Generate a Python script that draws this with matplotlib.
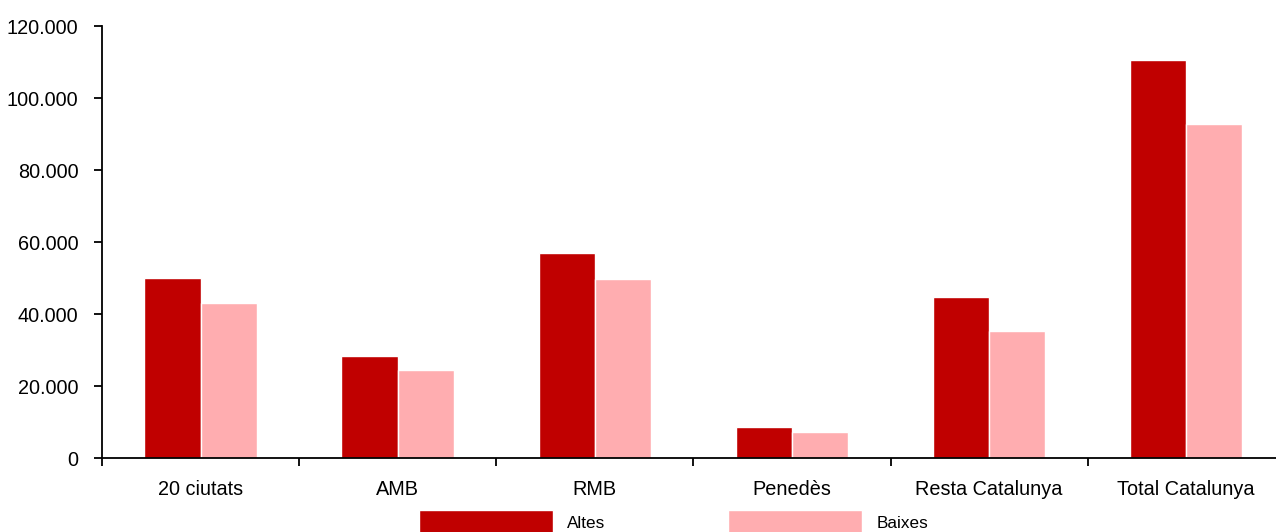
import matplotlib.pyplot as plt
import numpy as np
from matplotlib.ticker import FuncFormatter, FixedLocator

plt.rcParams['font.family'] = ['Liberation Sans', 'DejaVu Sans']

categories = ['20 ciutats', 'AMB', 'RMB', 'Penedès', 'Resta Catalunya', 'Total Catalunya']
altes = [50000, 28300, 56900, 8600, 44600, 110500]
baixes = [43000, 24400, 49800, 7200, 35400, 92800]

fig = plt.figure(figsize=(12.76, 5.32), dpi=100)
ax = fig.add_axes([0.0799, 0.139, 0.927, 0.812])

x = np.arange(len(categories))
w = 0.285
ax.bar(x - w / 2, altes, w, color='#C00000', edgecolor='white', linewidth=1, label='Altes')
ax.bar(x + w / 2, baixes, w, color='#FFADB0', edgecolor='white', linewidth=1, label='Baixes')

ax.set_xlim(-0.5, len(categories) - 0.5)
ax.set_ylim(0, 120000)
ax.set_yticks(np.arange(0, 120001, 20000))
ax.yaxis.set_major_formatter(FuncFormatter(lambda v, p: f'{int(v):,}'.replace(',', '.')))

ax.set_xticks(x)
ax.set_xticklabels(categories)
ax.xaxis.set_minor_locator(FixedLocator(np.arange(-0.5, len(categories), 1.0)))
ax.tick_params(axis='x', which='major', length=0, pad=16, labelsize=14.3)
ax.tick_params(axis='x', which='minor', length=6, width=1.3, direction='out')
ax.tick_params(axis='y', length=6, width=1.3, pad=11, labelsize=14.3)

for s in ['top', 'right']:
    ax.spines[s].set_visible(False)
for s in ['left', 'bottom']:
    ax.spines[s].set_linewidth(1.3)

fig.legend(loc='upper center', bbox_to_anchor=(0.528, 0.0414), ncol=2, frameon=False,
           fontsize=12.3, handlelength=7.8, handleheight=1.8, handletextpad=0.85,
           columnspacing=7.2, borderpad=0, borderaxespad=0)

fig.savefig('out.png', dpi=100)
